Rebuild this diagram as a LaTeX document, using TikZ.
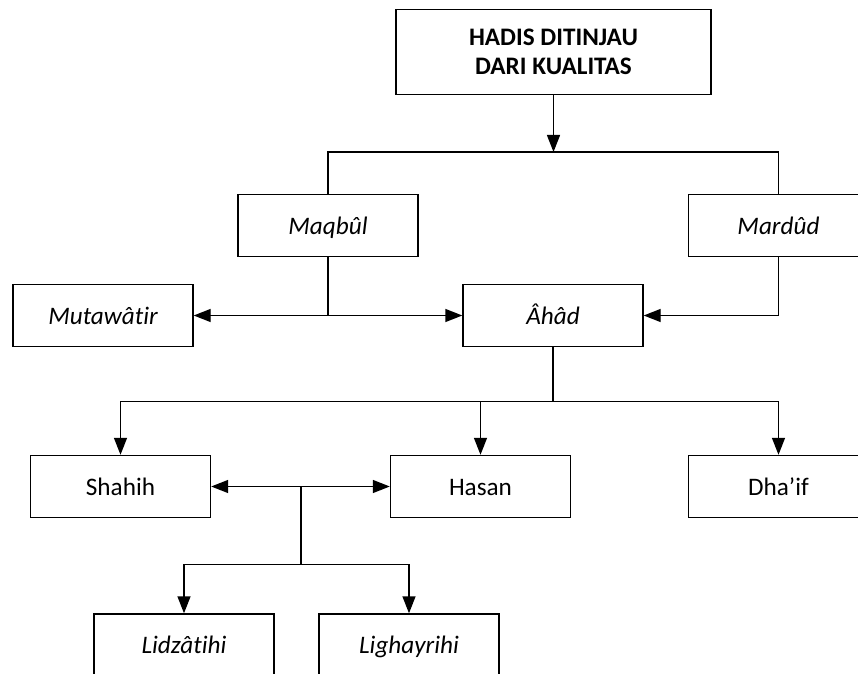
\documentclass[tikz,border=0pt]{standalone}
\usepackage{fontspec}
\setmainfont{Carlito}[Ligatures=NoCommon]
\usetikzlibrary{arrows.meta, positioning}

\begin{document}
\begin{tikzpicture}[x=0.5pt,y=-0.5pt,
  box/.style={draw,line width=0.7pt,minimum width=90pt,minimum height=31pt,inner sep=0pt,text height=11pt,text depth=2.4pt,font=\fontsize{12.6}{14}\selectfont},
  head/.style={draw,line width=0.7pt,minimum width=157.5pt,minimum height=42.5pt,align=center,font=\bfseries\fontsize{12.6}{14.2}\selectfont},
  link/.style={line width=0.7pt},
  arr/.style={link,-{Triangle[length=8.5pt,width=6.5pt]}}]
\useasboundingbox (0,0) rectangle (858,674);
\clip (0,0) rectangle (858,674);
\node[head] (hadis) at (553.5,51.8) {HADIS DITINJAU\\DARI KUALITAS};
\node[box] (maqbul) at (328,225.8) {\itshape Maqbûl};
\node[box] (mardud) at (778.5,225.8) {\itshape Mardûd};
\node[box] (mutawatir) at (103,315.5) {\itshape Mutawâtir};
\node[box] (ahad) at (553,315.5) {\itshape Âhâd};
\node[box] (shahih) at (120.5,486.5) {Shahih};
\node[box] (hasan) at (480.5,486.5) {Hasan};
\node[box] (dhaif) at (778.5,486.5) {Dha’if};
\node[box] (lidzatihi) at (184,645) {\itshape Lidzâtihi};
\node[box] (lighayrihi) at (409,645) {\itshape Lighayrihi};
% kualitas
\coordinate (k1) at (553.5,152);
\draw[arr] (hadis) -- (k1);
\draw[link] (maqbul.north) |- (k1) -| (mardud.north);
% maqbul dan mardud
\coordinate (k2) at (maqbul.south |- ahad);
\draw[link] (maqbul) -- (k2);
\draw[arr] (k2) -- (mutawatir.east);
\draw[arr] (k2) -- (ahad.west);
\draw[arr] (mardud.south) |- (ahad.east);
% ahad
\coordinate (k3) at (553,401.7);
\draw[link] (ahad) -- (k3);
\draw[arr] (k3) -| (shahih.north);
\draw[arr] (k3) -| (dhaif.north);
\draw[arr] (hasan.north |- k3) -- (hasan.north);
% shahih dan hasan
\coordinate (k4) at (301,486.5);
\coordinate (k5) at (301,564.3);
\draw[arr] (k4) -- (shahih.east);
\draw[arr] (k4) -- (hasan.west);
\draw[link] (k4) -- (k5);
\draw[arr] (k5) -| (lidzatihi.north);
\draw[arr] (k5) -| (lighayrihi.north);
\end{tikzpicture}
\end{document}
